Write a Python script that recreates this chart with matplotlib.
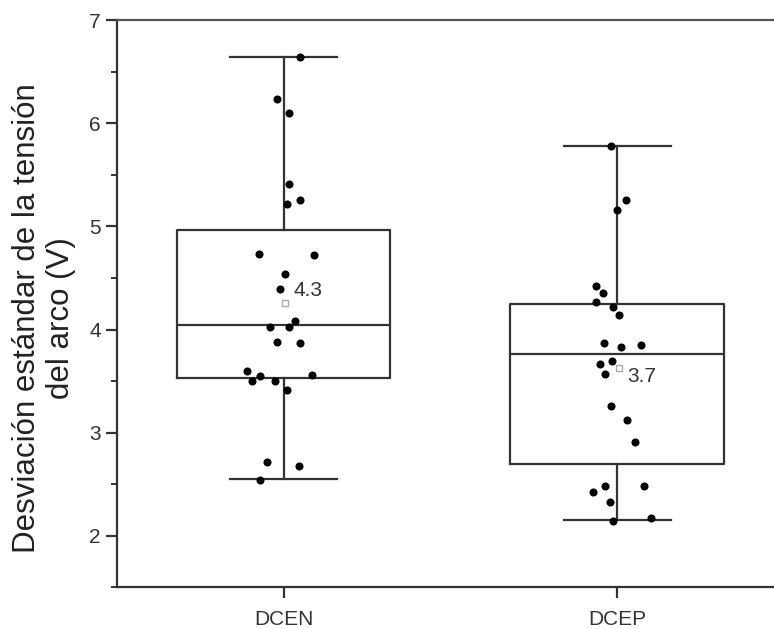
import matplotlib
matplotlib.use("Agg")
import matplotlib.pyplot as plt
from matplotlib.ticker import MultipleLocator

plt.rcParams['font.family'] = ['Liberation Sans', 'DejaVu Sans']

categories = ["DCEN", "DCEP"]

# box statistics
q1 = [3.53, 2.70]
medians = [4.04, 3.76]
q3 = [4.97, 4.25]
whisk_lo = [2.55, 2.15]
whisk_hi = [6.64, 5.78]
mean_labels = ["4.3", "3.7"]

# individual points
dcen_values = [6.64, 6.24, 6.10, 5.41, 5.26, 5.22, 4.73, 4.72, 4.54, 4.39,
               4.03, 4.03, 4.08, 3.88, 3.87, 3.60, 3.50, 3.55, 3.50, 3.56,
               3.41, 2.72, 2.68, 2.54]
dcen_jitter = [0.05, -0.02, 0.015, 0.015, 0.05, 0.01, -0.075, 0.09, 0.005, -0.01,
               -0.04, 0.015, 0.035, -0.02, 0.05, -0.11, -0.095, -0.07, -0.025, 0.085,
               0.01, -0.05, 0.045, -0.07]
dcep_values = [5.78, 5.26, 5.16, 4.42, 4.35, 4.27, 4.22, 4.14, 3.87, 3.83,
               3.85, 3.67, 3.70, 3.57, 3.26, 3.12, 2.91, 2.43, 2.48, 2.48,
               2.33, 2.14, 2.17]
dcep_jitter = [-0.018, 0.027, 0.0, -0.063, -0.042, -0.063, -0.012, 0.006, -0.039, 0.012,
               0.072, -0.051, -0.015, -0.036, -0.018, 0.03, 0.054, -0.072, -0.036, 0.081,
               -0.021, -0.012, 0.102]
point_values = [dcen_values, dcep_values]
point_jitter = [dcen_jitter, dcep_jitter]

fig = plt.figure(figsize=(7.74, 6.29), dpi=100)
ax = fig.add_axes([0.151, 0.066, 0.849, 0.902])

line_col = "#333333"
stats = []
for i, c in enumerate(categories):
    stats.append(dict(label=c, med=medians[i], q1=q1[i], q3=q3[i],
                      whislo=whisk_lo[i], whishi=whisk_hi[i], fliers=[]))
positions = list(range(1, len(categories) + 1))
lp = dict(color=line_col, linewidth=1.6)
ax.bxp(stats, positions=positions, widths=0.64, showfliers=False,
       boxprops=lp, medianprops=lp, whiskerprops=lp, capprops=lp,
       capwidths=0.32, manage_ticks=False, zorder=2)

for i, (vals, jit) in enumerate(zip(point_values, point_jitter)):
    xs = [positions[i] + j for j in jit]
    ax.plot(xs, vals, 'o', color='black', markersize=4.8, linestyle='none', zorder=3)
    m = sum(vals) / len(vals)
    ax.plot([positions[i] + 0.005], [m], 's', markersize=4, markerfacecolor='white',
            markeredgecolor='#aaaaaa', markeredgewidth=1, zorder=4)
    dy = 0.12 if i == 0 else -0.08
    ax.text(positions[i] + 0.03, m + dy, mean_labels[i], fontsize=15,
            color='#333333', va='center', ha='left', zorder=5)

ax.set_xlim(0.5, 2.47)
ax.set_ylim(1.5, 7)
ax.set_xticks(positions)
ax.set_xticklabels(categories)
ax.yaxis.set_minor_locator(MultipleLocator(0.5))
ax.set_yticks([2, 3, 4, 5, 6, 7])
ax.spines['right'].set_visible(False)
for s in ['left', 'bottom', 'top']:
    ax.spines[s].set_color(line_col)
    ax.spines[s].set_linewidth(1.6)
ax.spines['top'].set_color('#555555')
ax.tick_params(axis='both', which='major', direction='out', length=8, width=1.6,
               color=line_col, labelsize=15, labelcolor='#333333')
ax.tick_params(axis='y', which='minor', direction='out', length=4, width=1.4, color=line_col)
ax.tick_params(axis='x', pad=8)
ax.set_ylabel("Desviación estándar de la tensión\ndel arco (V)", fontsize=22.5,
              color='#222222', linespacing=1.2)
ax.yaxis.set_label_coords(-0.062, 0.474)

fig.savefig("out.png", dpi=100)
